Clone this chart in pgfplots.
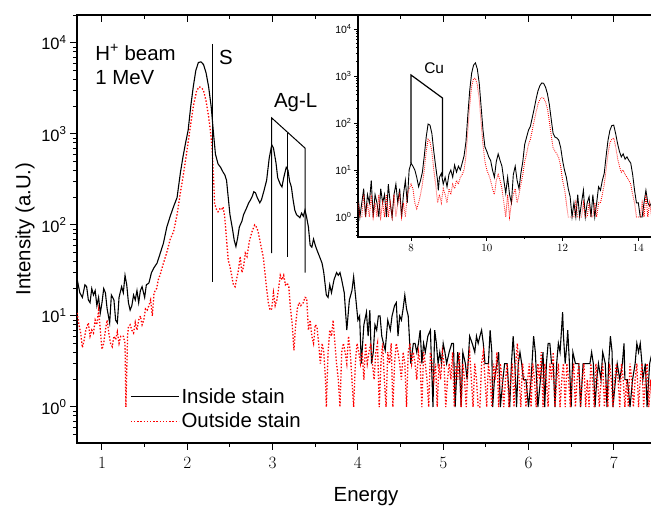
\documentclass[border=0pt]{standalone}
\usepackage{pgfplots}
\pgfplotsset{compat=1.18}
\usepackage{fontspec}
\setmainfont{Liberation Sans}
\newcommand{\lbl}{\fontsize{20.5}{23}\selectfont}
\begin{document}
\begin{tikzpicture}
\useasboundingbox (0,0) rectangle (651bp,508bp);
% ---------------- main axis ----------------
\begin{axis}[
  at={(77bp,65bp)}, anchor=south west,
  scale only axis, width=578bp, height=428bp,
  ymode=log, xmin=0.707, xmax=7.483, ymin=0.402, ymax=20300,
  xtick={1,2,3,4,5,6,7}, minor x tick num=1,
  ytick={1,10,100,1000,10000},
  yticklabels={10\textsuperscript{0},10\textsuperscript{1},10\textsuperscript{2},10\textsuperscript{3},10\textsuperscript{4}},
  minor ytick={0.5,0.6,0.7,0.8,0.9,2,3,4,5,6,7,8,9,20,30,40,50,60,70,80,90,200,300,400,500,600,700,800,900,2000,3000,4000,5000,6000,7000,8000,9000,20000},
  xtick pos=left, ytick pos=left, tick align=outside,
  major tick length=7bp, minor tick length=4bp,
  axis line style={line width=1.2bp},
  every tick/.style={black, line width=1bp},
  ticklabel style={font=\fontsize{16.5}{18}\selectfont},
  xticklabel style={yshift=-4bp},
  xlabel={Energy}, ylabel={Intensity (a.U.)},
  label style={font=\lbl},
  xlabel style={at={(axis description cs:0.5,0)}, anchor=center, yshift=-54bp},
  ylabel style={at={(axis description cs:-0.09,0.5)}, anchor=center},
  legend style={at={(rel axis cs:0.0917,0.0794)}, anchor=west, draw=none, fill=none,
    font=\lbl, inner sep=0pt, row sep=4bp, nodes={inner sep=2bp}, cells={anchor=west}},
  legend image code/.code={\draw[#1] (0bp,0bp) -- (48bp,0bp);},
]
\addplot[black, line width=1.1bp] coordinates {
(0.71,25) (0.74,18) (0.77,16) (0.80,22) (0.82,21) (0.84,15) (0.86,14) (0.88,20) (0.90,17) (0.92,19)
(0.94,13) (0.96,16) (0.98,10.8) (1.00,14) (1.02,20) (1.04,18) (1.06,12) (1.09,8.4) (1.11,17) (1.14,15)
(1.16,9) (1.18,8.4) (1.20,16) (1.23,21) (1.25,18) (1.27,28) (1.29,22) (1.31,14) (1.33,11.6) (1.35,13)
(1.37,17) (1.39,15) (1.41,19) (1.43,14) (1.45,19) (1.47,21) (1.50,16) (1.52,22) (1.55,23) (1.58,30)
(1.61,34) (1.645,38) (1.68,48) (1.72,63) (1.76,95) (1.80,125) (1.84,160) (1.88,200) (1.92,380) (1.95,565)
(1.98,800) (2.01,1100) (2.04,2000) (2.07,3300) (2.10,5000) (2.13,6100) (2.16,6200) (2.19,5800) (2.22,4700) (2.25,3300)
(2.28,2000) (2.31,950) (2.33,600) (2.36,470) (2.39,430) (2.42,380) (2.44,355) (2.46,310) (2.48,200) (2.50,130)
(2.53,90) (2.55,68) (2.57,58) (2.59,72) (2.61,95) (2.64,110) (2.66,130) (2.69,150) (2.72,175) (2.74,188)
(2.76,205) (2.78,232) (2.80,225) (2.82,200) (2.85,175) (2.87,190) (2.90,240) (2.93,310) (2.96,540) (2.99,760)
(3.01,700) (3.04,480) (3.06,330) (3.09,280) (3.11,262) (3.13,330) (3.16,430) (3.18,400) (3.20,300) (3.22,262)
(3.24,190) (3.26,146) (3.28,130) (3.30,125) (3.32,120) (3.34,135) (3.36,125) (3.38,146) (3.40,120) (3.42,95)
(3.44,60) (3.46,57) (3.48,70) (3.50,60) (3.52,53) (3.55,45) (3.58,38) (3.60,30) (3.63,17) (3.65,16)
(3.67,22) (3.69,18) (3.72,25) (3.75,30) (3.77,28) (3.79,30) (3.81,25) (3.84,18) (3.87,7) (3.90,15)
(3.93,19) (3.95,27) (3.98,14) (4.00,9) (4.02,10) (4.04,3) (4.07,8) (4.10,11) (4.12,6) (4.14,11.6)
(4.16,3) (4.18,4) (4.20,8) (4.22,7) (4.24,10) (4.26,10) (4.28,6) (4.30,5) (4.32,4.2) (4.35,9)
(4.38,7) (4.40,10) (4.43,13) (4.45,14) (4.47,6) (4.49,10) (4.51,9) (4.53,12) (4.55,17) (4.57,12)
(4.59,10) (4.62,3) (4.65,5) (4.67,5) (4.69,4) (4.71,5) (4.73,7) (4.75,3) (4.77,5) (4.79,4)
(4.82,6) (4.85,7) (4.88,1) (4.90,7) (4.92,5) (4.94,3) (4.96,4) (4.98,3) (5.00,5) (5.02,4)
(5.04,3) (5.07,4) (5.10,5) (5.12,5) (5.14,1) (5.17,4) (5.19,3) (5.21,1) (5.23,4) (5.26,3)
(5.28,2) (5.31,6) (5.34,5) (5.37,4) (5.39,6) (5.41,5) (5.43,6) (5.45,7) (5.47,5) (5.49,3)
(5.51,3) (5.53,3) (5.55,7) (5.57,4) (5.58,1) (5.60,2) (5.63,3) (5.65,4) (5.67,1) (5.70,2)
(5.72,3) (5.75,3) (5.78,1) (5.80,3) (5.82,6) (5.84,3) (5.86,1) (5.88,3) (5.90,4) (5.92,3)
(5.94,2) (5.97,2) (6.00,1) (6.03,2) (6.06,6) (6.08,4) (6.11,1) (6.14,2) (6.17,4) (6.19,1)
(6.21,3) (6.23,5) (6.25,5) (6.27,3) (6.29,3) (6.31,1) (6.33,3) (6.35,5) (6.37,4) (6.40,11)
(6.41,6) (6.43,3) (6.45,5) (6.46,7) (6.48,3) (6.50,1) (6.52,4) (6.55,3) (6.57,3) (6.59,3)
(6.61,1) (6.64,3) (6.67,3) (6.70,3) (6.72,3) (6.74,4) (6.76,3) (6.78,1) (6.80,2) (6.82,3)
(6.85,2) (6.87,4) (6.90,3) (6.92,1) (6.94,3) (6.96,6) (6.98,4) (6.99,1) (7.02,2) (7.04,3)
(7.07,2) (7.10,3) (7.12,5) (7.13,2) (7.16,2) (7.19,1) (7.22,2) (7.25,3) (7.27,5) (7.29,4)
(7.31,5) (7.33,3) (7.34,2) (7.37,3) (7.39,1) (7.42,3) (7.45,4) (7.48,2)
};
\addlegendentry{Inside stain}
\addplot[red, line width=1.3bp, dash pattern=on 1.4bp off 1.8bp] coordinates {
(0.71,10.8) (0.73,8) (0.75,6.5) (0.77,4.5) (0.79,5.4) (0.81,7) (0.84,8.4) (0.86,6) (0.88,7) (0.90,6.5)
(0.92,9) (0.94,8) (0.96,11.6) (0.98,7) (1.00,4.3) (1.02,5) (1.04,7) (1.06,9) (1.08,6.5) (1.10,5)
(1.12,4.6) (1.14,6) (1.16,5.5) (1.18,6.7) (1.20,5) (1.22,6) (1.25,6) (1.27,5) (1.28,1) (1.30,6)
(1.31,7.6) (1.33,8) (1.35,7) (1.37,6.5) (1.39,8.5) (1.41,7) (1.43,9) (1.45,10) (1.47,8) (1.49,9)
(1.51,12) (1.53,11.6) (1.55,13) (1.57,15) (1.59,10) (1.61,18) (1.64,20) (1.66,25) (1.68,28) (1.72,38)
(1.76,50) (1.80,70) (1.84,85) (1.88,130) (1.92,230) (1.95,338) (1.99,600) (2.03,1100) (2.07,2000) (2.11,3000)
(2.14,3300) (2.17,3200) (2.19,3000) (2.22,2300) (2.25,1550) (2.27,1100) (2.29,720) (2.31,300) (2.32,172) (2.34,150)
(2.36,140) (2.38,150) (2.40,146) (2.42,158) (2.44,120) (2.46,70) (2.48,41) (2.50,35) (2.52,28) (2.54,22)
(2.56,21) (2.58,26) (2.60,32) (2.62,45) (2.64,30) (2.66,35) (2.68,49) (2.70,45) (2.73,68) (2.76,85)
(2.79,100) (2.81,95) (2.83,85) (2.85,68) (2.87,55) (2.89,45) (2.91,30) (2.93,20) (2.95,14) (2.97,11.6)
(2.99,12) (3.01,18) (3.03,13) (3.05,15) (3.07,20) (3.09,28) (3.11,25) (3.13,28) (3.15,22) (3.17,23)
(3.19,21) (3.21,12) (3.23,8) (3.25,4.2) (3.27,8) (3.29,12) (3.31,14) (3.33,13) (3.36,14) (3.38,16)
(3.40,15.7) (3.42,7) (3.44,9) (3.46,6) (3.48,5) (3.50,8) (3.52,7.6) (3.54,5) (3.56,3) (3.58,5)
(3.60,4) (3.62,2) (3.63,1) (3.65,4) (3.67,7) (3.69,6) (3.71,9) (3.73,5) (3.75,3) (3.77,2)
(3.79,1) (3.81,4) (3.83,5) (3.85,4) (3.87,3) (3.89,6) (3.91,4) (3.93,2) (3.95,1) (3.97,3)
(3.99,5) (4.01,4) (4.03,3) (4.05,4) (4.07,2) (4.09,5) (4.11,3) (4.13,4) (4.15,5) (4.17,3)
(4.19,2) (4.21,4) (4.23,5) (4.25,1) (4.27,3) (4.29,5) (4.31,2) (4.33,1) (4.35,4) (4.37,3)
(4.39,5) (4.41,1) (4.43,3) (4.45,5) (4.47,4) (4.49,3) (4.51,2) (4.53,4) (4.55,3) (4.57,1)
(4.59,4) (4.61,5) (4.63,3) (4.65,4) (4.67,3) (4.69,2) (4.71,4) (4.73,3) (4.75,1) (4.77,4)
(4.79,3) (4.81,2) (4.83,1) (4.85,4) (4.87,3) (4.89,2) (4.91,3) (4.93,1) (4.95,3) (4.97,2)
(4.99,4) (5.01,3) (5.03,1) (5.05,2) (5.07,3) (5.09,2) (5.11,4) (5.13,1) (5.15,3) (5.17,2)
(5.19,4) (5.21,1) (5.23,3) (5.25,2) (5.27,1) (5.29,3) (5.31,4) (5.33,2) (5.35,1) (5.37,3)
(5.39,2) (5.41,1) (5.43,1) (5.45,3) (5.47,4) (5.49,2) (5.51,1) (5.53,3) (5.55,2) (5.57,1)
(5.59,3) (5.61,2) (5.63,4) (5.65,1) (5.67,3) (5.69,2) (5.71,1) (5.73,2) (5.75,3) (5.77,1)
(5.79,2) (5.81,3) (5.83,1) (5.85,3) (5.87,5) (5.89,2) (5.91,1) (5.93,3) (5.95,2) (5.97,1)
(5.99,2) (6.01,3) (6.03,1) (6.05,3) (6.07,2) (6.09,1) (6.11,3) (6.13,2) (6.15,4) (6.17,1)
(6.19,3) (6.21,2) (6.23,1) (6.25,3) (6.27,2) (6.29,4) (6.31,1) (6.33,2) (6.35,3) (6.37,1)
(6.39,2) (6.41,3) (6.43,1) (6.45,3) (6.47,2) (6.49,1) (6.51,2) (6.53,3) (6.55,1) (6.57,2)
(6.59,3) (6.61,1) (6.63,2) (6.65,3) (6.67,1) (6.69,2) (6.71,1) (6.73,3) (6.75,2) (6.77,1)
(6.79,3) (6.81,2) (6.83,1) (6.85,2) (6.87,3) (6.89,1) (6.91,2) (6.93,1) (6.95,3) (6.97,2)
(6.99,1) (7.01,2) (7.03,3) (7.05,2) (7.07,1) (7.09,3) (7.11,2) (7.13,1) (7.15,2) (7.17,1)
(7.19,3) (7.21,2) (7.23,1) (7.25,2) (7.27,3) (7.29,1) (7.31,2) (7.33,3) (7.35,1) (7.37,2)
(7.39,3) (7.41,1) (7.43,2) (7.45,1) (7.47,3)
};
\addlegendentry{Outside stain}
% annotations
\draw[line width=1bp] (axis cs:2.30,9800) -- (axis cs:2.30,23.6);
\node[anchor=west, font=\lbl, inner sep=0pt] at (axis cs:2.37,6900) {S};
\draw[line width=1bp] (axis cs:2.99,49) -- (axis cs:2.99,1500) -- (axis cs:3.38,700) -- (axis cs:3.38,30);
\draw[line width=1bp] (axis cs:3.17,45) -- (axis cs:3.17,1030);
\node[font=\lbl, inner sep=0pt] at (axis cs:3.27,2200) {Ag-L};
\node[anchor=west, font=\lbl, inner sep=0pt] at (axis cs:0.92,7900) {H\textsuperscript{+} beam};
\node[anchor=west, font=\lbl, inner sep=0pt] at (axis cs:0.92,4150) {1 MeV};
\end{axis}
% ---------------- inset ----------------
\begin{axis}[
  at={(358bp,271bp)}, anchor=south west,
  scale only axis, width=297bp, height=222bp,
  axis background/.style={fill=white},
  ymode=log, xmin=6.6, xmax=14.44, ymin=0.375, ymax=19860,
  xtick={8,10,12,14}, minor x tick num=1,
  ytick={1,10,100,1000,10000},
  yticklabels={10\textsuperscript{0},10\textsuperscript{1},10\textsuperscript{2},10\textsuperscript{3},10\textsuperscript{4}},
  minor ytick={0.4,0.5,0.6,0.7,0.8,0.9,2,3,4,5,6,7,8,9,20,30,40,50,60,70,80,90,200,300,400,500,600,700,800,900,2000,3000,4000,5000,6000,7000,8000,9000},
  xtick pos=left, ytick pos=left, tick align=outside,
  major tick length=4bp, minor tick length=2bp,
  axis line style={line width=1.2bp},
  every tick/.style={black, line width=0.8bp},
  ticklabel style={font=\fontsize{10.5}{11}\selectfont},
  yticklabel style={xshift=1bp},
]
\addplot[black, line width=0.9bp] coordinates {
(6.60,3) (6.65,1) (6.70,2) (6.75,4) (6.80,1) (6.85,3) (6.90,2) (6.95,6) (7.00,1) (7.05,3)
(7.10,2) (7.15,1) (7.20,4) (7.25,2) (7.30,3) (7.35,1) (7.40,5) (7.45,2) (7.50,1) (7.55,3)
(7.60,5) (7.65,2) (7.70,4) (7.75,1) (7.80,3) (7.85,6) (7.90,2) (7.95,10) (8.00,14) (8.05,12)
(8.10,10) (8.15,7) (8.20,4.4) (8.25,6) (8.30,9) (8.35,20) (8.40,50) (8.45,95) (8.50,90) (8.55,60)
(8.60,25) (8.65,12) (8.70,6) (8.72,3.7) (8.75,7) (8.80,8.5) (8.85,5) (8.90,7) (8.95,4.4) (9.00,8)
(9.05,10) (9.10,7) (9.15,12.7) (9.20,9) (9.25,12) (9.30,10) (9.35,14) (9.40,20) (9.45,40) (9.50,150)
(9.55,500) (9.60,1150) (9.65,1700) (9.70,1900) (9.75,1400) (9.80,700) (9.85,220) (9.90,70) (9.95,31) (10.00,25)
(10.05,19) (10.10,16) (10.15,10) (10.20,7) (10.25,15) (10.30,22) (10.35,16) (10.40,12) (10.45,6) (10.50,3.2)
(10.55,7) (10.60,3) (10.65,2) (10.70,8) (10.75,12) (10.80,6) (10.85,4) (10.90,8.5) (10.95,15) (11.00,35)
(11.05,50) (11.10,70) (11.15,85) (11.20,130) (11.25,200) (11.30,320) (11.35,480) (11.40,620) (11.45,710) (11.50,700)
(11.55,580) (11.60,420) (11.65,250) (11.70,120) (11.75,60) (11.80,50) (11.85,48) (11.90,43) (11.95,30) (12.00,16)
(12.05,10) (12.10,7) (12.15,4) (12.20,2.7) (12.25,1) (12.30,2) (12.35,1) (12.40,3) (12.45,1) (12.50,2)
(12.55,3.7) (12.60,1) (12.65,2) (12.70,2.7) (12.75,1) (12.80,3) (12.85,1) (12.90,2) (12.95,4.4) (13.00,3.7)
(13.05,6) (13.10,8.5) (13.15,20) (13.20,43) (13.25,70) (13.30,88) (13.35,90) (13.40,60) (13.45,37) (13.50,25)
(13.55,19) (13.60,22) (13.65,17) (13.70,19) (13.75,16) (13.80,14) (13.85,8) (13.90,3.7) (13.95,2) (14.00,2)
(14.05,1) (14.10,1) (14.15,2) (14.20,3.7) (14.25,2) (14.30,1.7) (14.35,2) (14.40,3) (14.44,1)
};
\addplot[red, line width=0.9bp, dash pattern=on 0.8bp off 1.2bp] coordinates {
(6.60,2) (6.65,1) (6.70,1) (6.75,3) (6.80,1) (6.85,2) (6.90,1) (6.95,3) (7.00,1) (7.05,2)
(7.10,1) (7.15,3) (7.20,1) (7.25,2) (7.30,1) (7.35,3) (7.40,1) (7.45,2) (7.50,1) (7.55,3)
(7.60,1) (7.65,2) (7.70,3) (7.75,1) (7.80,2) (7.85,1) (7.90,3) (7.95,4) (8.00,5) (8.05,4)
(8.10,2) (8.15,1.5) (8.20,2) (8.25,3) (8.30,5) (8.35,10) (8.40,25) (8.45,45) (8.50,40) (8.55,25)
(8.60,10) (8.65,5) (8.70,2) (8.75,3) (8.80,2) (8.85,4) (8.90,3) (8.95,2) (9.00,4) (9.05,3)
(9.10,5) (9.15,4) (9.20,6) (9.25,5) (9.30,7) (9.35,8) (9.40,10) (9.45,20) (9.50,70) (9.55,250)
(9.60,600) (9.65,880) (9.70,900) (9.75,650) (9.80,320) (9.85,100) (9.90,35) (9.95,15) (10.00,10) (10.05,8)
(10.10,6) (10.15,4) (10.20,3) (10.25,6) (10.30,8) (10.35,6) (10.40,4) (10.45,2) (10.50,1) (10.55,3)
(10.60,1) (10.65,2) (10.70,3) (10.75,4) (10.80,2) (10.85,3) (10.90,5) (10.95,8) (11.00,15) (11.05,22)
(11.10,35) (11.15,45) (11.20,70) (11.25,110) (11.30,170) (11.35,250) (11.40,320) (11.45,345) (11.50,340) (11.55,280)
(11.60,200) (11.65,110) (11.70,55) (11.75,30) (11.80,25) (11.85,22) (11.90,18) (11.95,12) (12.00,6) (12.05,4)
(12.10,2) (12.15,1) (12.20,1) (12.25,1) (12.30,1) (12.35,2) (12.40,1) (12.45,1) (12.50,1) (12.55,2)
(12.60,1) (12.65,1) (12.70,2) (12.75,1) (12.80,1) (12.85,2) (12.90,1) (12.95,2) (13.00,2) (13.05,3)
(13.10,5) (13.15,10) (13.20,22) (13.25,38) (13.30,45) (13.35,48) (13.40,32) (13.45,18) (13.50,12) (13.55,9)
(13.60,10) (13.65,8) (13.70,7) (13.75,6) (13.80,5) (13.85,3) (13.90,2) (13.95,1) (14.00,1) (14.05,1)
(14.10,2) (14.15,1) (14.20,3) (14.25,1) (14.30,2) (14.35,1) (14.40,2) (14.44,1)
};
\draw[line width=1.2bp] (axis cs:8.0,14) -- (axis cs:8.0,1050) -- (axis cs:8.83,340) -- (axis cs:8.83,7.2);
\node[font=\fontsize{15.5}{17}\selectfont, inner sep=0pt] at (axis cs:8.61,1480) {Cu};
\end{axis}
% ---------------- main top axis with inward ticks ----------------
\begin{axis}[
  at={(77bp,65bp)}, anchor=south west,
  scale only axis, width=578bp, height=428bp,
  ymode=log, xmin=0.707, xmax=7.483, ymin=0.402, ymax=20300,
  axis x line*=top, axis y line=none,
  xtick={1,2,3,4,5,6,7}, minor x tick num=1, xticklabels={},
  ytick=\empty,
  tick align=inside, major tick length=7bp, minor tick length=4bp,
  axis line style={line width=1.2bp},
  every tick/.style={black, line width=1bp},
]
\end{axis}
\end{tikzpicture}
\end{document}
